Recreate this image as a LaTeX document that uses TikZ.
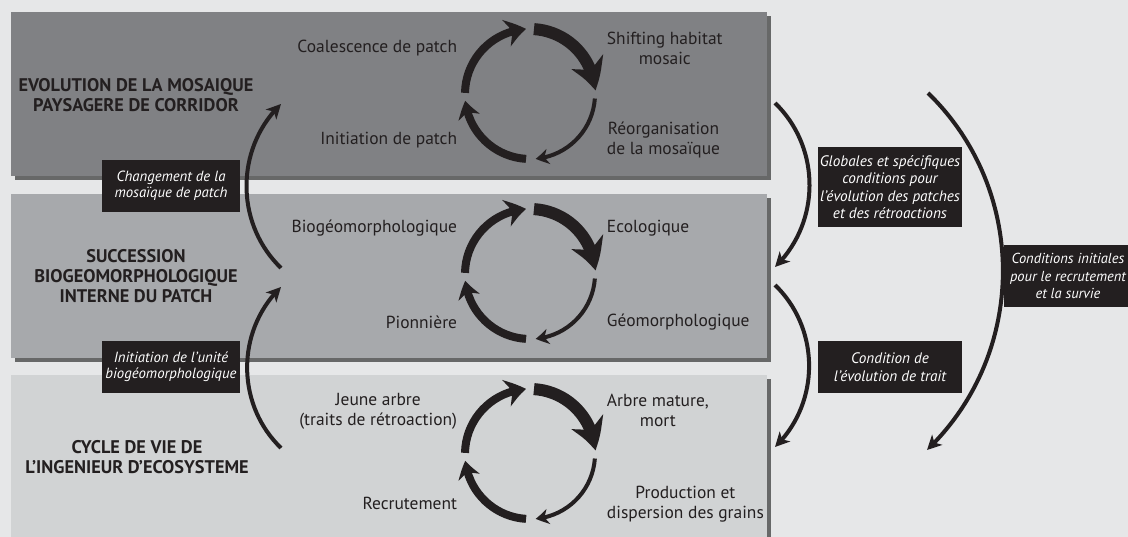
\documentclass[tikz,border=0pt]{standalone}
\usepackage{fontspec}
\setmainfont{PT Sans}
\usetikzlibrary{arrows.meta,bending,shadows}

\definecolor{fond}{HTML}{E6E7E8}
\definecolor{encre}{HTML}{231F20}
\definecolor{niveauA}{HTML}{808184}
\definecolor{niveauB}{HTML}{A7A9AC}
\definecolor{niveauC}{HTML}{D1D3D4}

\tikzset{
  panneau/.style={fill=#1,drop shadow={shadow xshift=0.1cm,shadow yshift=-0.1cm,opacity=0.55,fill=black}},
  titre/.style={font=\fontsize{13}{14.4}\selectfont\bfseries,text=encre,align=center},
  etape/.style={font=\fontsize{12.4}{14.3}\selectfont,text=encre,align=center},
  cartouche/.style={fill=encre,text=white,align=center,inner sep=0pt},
  fleche/.style={encre,line width=0.1cm,-{Stealth[length=0.36cm,width=0.36cm,inset=0.1cm]}},
}

\begin{document}
\begin{tikzpicture}[x=0.025cm,y=0.025cm]
  \useasboundingbox (0,0) rectangle (1128,537);
  \clip (0,0) rectangle (1128,537);
  \fill[fond] (0,0) rectangle (1128,537);

  % les trois niveaux
  \fill[panneau=niveauA] (11,361) rectangle (767,525);
  \fill[panneau=niveauB] (11,179) rectangle (767,343);
  \fill[panneau=niveauC] (11,-20) rectangle (767,162);

  \node[titre] (mosaique) at (136,442) {EVOLUTION DE LA MOSAIQUE\\PAYSAGERE DE CORRIDOR};
  \node[titre] (succession) at (136,261) {SUCCESSION\\BIOGEOMORPHOLOGIQUE\\INTERNE DU PATCH};
  \node[titre] (ingenieur) at (137,80) {CYCLE DE VIE DE\\L'INGENIEUR D'ECOSYSTEME};

  % cycles
  \foreach \cy in {443,263,83}{
    \begin{scope}[shift={(530,\cy)}]
      \draw[encre,line width=0.2cm,-{Stealth[length=0.5cm,width=0.68cm,inset=0.16cm,bend]}]
        (179:65) arc[start angle=179,end angle=93.5,radius=65];
      \draw[encre,line width=0.3cm,-{Stealth[length=0.75cm,width=0.85cm,inset=0.22cm,bend]}]
        (86.5:65) arc[start angle=86.5,end angle=3,radius=65];
      \draw[encre,line width=0.1cm,-{Stealth[length=0.32cm,width=0.38cm,inset=0.1cm,bend]}]
        (-4:65) arc[start angle=-4,end angle=-85,radius=65];
      \draw[encre,line width=0.2cm,-{Stealth[length=0.42cm,width=0.55cm,inset=0.13cm,bend]}]
        (266.5:65) arc[start angle=266.5,end angle=186,radius=65];
    \end{scope}
  }

  \begin{scope}[shift={(530,443)}]
    \node[etape,anchor=east] (coalescence) at (-68,46) {Coalescence de patch};
    \node[etape,anchor=west] (shifting) at (72,46) {Shifting habitat\\mosaic};
    \node[etape,anchor=east] (initiation) at (-68,-46) {Initiation de patch};
    \node[etape,anchor=west] (reorganisation) at (72,-46) {Réorganisation\\de la mosaïque};
  \end{scope}

  \begin{scope}[shift={(530,263)}]
    \node[etape,anchor=east] (biogeo) at (-68,46) {Biogéomorphologique};
    \node[etape,anchor=west] (ecologique) at (72,46) {Ecologique};
    \node[etape,anchor=east] (pionniere) at (-68,-48) {Pionnière};
    \node[etape,anchor=west] (geomorpho) at (72,-48) {Géomorphologique};
  \end{scope}

  \begin{scope}[shift={(530,83)}]
    \node[etape,anchor=east] (jeune) at (-68,43) {Jeune arbre\\(traits de rétroaction)};
    \node[etape,anchor=west] (mature) at (72,44) {Arbre mature,\\mort};
    \node[etape,anchor=east] (recrutement) at (-68,-49) {Recrutement};
    \node[etape,anchor=west] (production) at (72,-50) {Production et\\dispersion des grains};
  \end{scope}

  % fleches entre niveaux
  \coordinate (g1d) at (281,269);
  \coordinate (g1f) at (281,433);
  \coordinate (g2d) at (281,89);
  \coordinate (g2f) at (281,250);
  \coordinate (d1d) at (775,434);
  \coordinate (d1f) at (775,270);
  \coordinate (d2d) at (775,252);
  \coordinate (d2f) at (775,90);
  \coordinate (d3d) at (928,444);
  \coordinate (d3f) at (927,87);

  \draw[fleche] (g1d) to[bend left=46] (g1f);
  \draw[fleche] (g2d) to[bend left=46] (g2f);
  \draw[fleche] (d1d) to[bend left=46] (d1f);
  \draw[fleche] (d2d) to[bend left=46] (d2f);
  \draw[fleche] (d3d) to[bend left=46] (d3f);

  \node[cartouche,minimum width=3.45cm,minimum height=1.3cm,font=\fontsize{10.5}{11.2}\selectfont\itshape]
    (changement) at (171,351) {Changement de la\\mosaïque de patch};
  \node[cartouche,minimum width=3.45cm,minimum height=1.3cm,font=\fontsize{10.5}{11.2}\selectfont\itshape]
    (unite) at (171,170) {Initiation de l'unité\\biogéomorphologique};
  \node[cartouche,minimum width=3.62cm,minimum height=1.98cm,font=\fontsize{10.8}{12.5}\selectfont\itshape]
    (globales) at (890,350) {Globales et spécifiques\\conditions pour\\l'évolution des patches\\et des rétroactions};
  \node[cartouche,minimum width=3.62cm,minimum height=1.3cm,font=\fontsize{10.8}{12.8}\selectfont\itshape]
    (trait) at (890,170) {Condition de\\l'évolution de trait};
  \node[cartouche,minimum width=3.2cm,minimum height=1.55cm,font=\fontsize{10.3}{12.5}\selectfont\itshape]
    (initiales) at (1068,261) {Conditions initiales\\pour le recrutement\\et la survie};
\end{tikzpicture}
\end{document}
